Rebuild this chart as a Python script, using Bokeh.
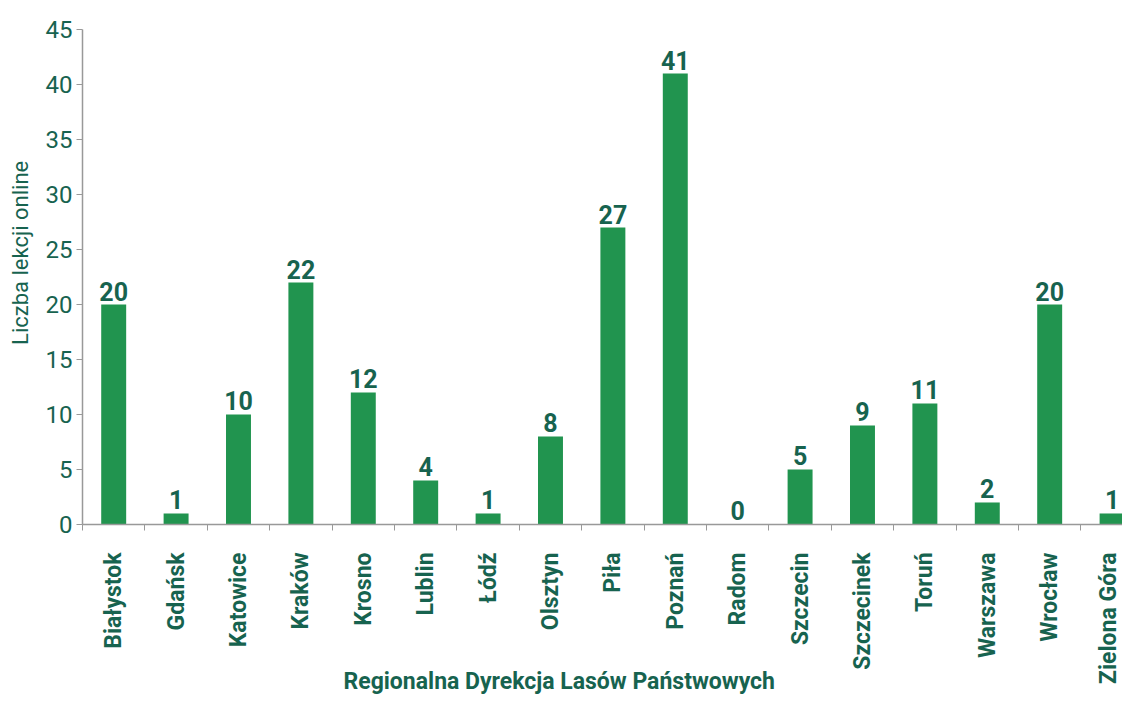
import math
from bokeh.plotting import figure
from bokeh.models import ColumnDataSource, FixedTicker, Range1d, Label
from bokeh.core.properties import value
from bokeh.embed import file_html
from bokeh.resources import INLINE

categories = ["Białystok", "Gdańsk", "Katowice", "Kraków", "Krosno", "Lublin", "Łódź",
              "Olsztyn", "Piła", "Poznań", "Radom", "Szczecin", "Szczecinek", "Toruń",
              "Warszawa", "Wrocław", "Zielona Góra"]
lessons = [20, 1, 10, 22, 12, 4, 1, 8, 27, 41, 0, 5, 9, 11, 2, 20, 1]
y_ticks = [0, 5, 10, 15, 20, 25, 30, 35, 40, 45]

BAR = "#21944f"
TXT = "#17634f"
FONT = "Roboto"

xs = [i + 0.5 for i in range(len(categories))]
src = ColumnDataSource(dict(x=xs, top=lessons, lbl=[str(v) for v in lessons]))

p = figure(width=1122, height=696, output_backend="svg", toolbar_location=None,
           x_range=Range1d(-1.314, 16.667), y_range=Range1d(-15.64, 47.64),
           min_border_left=0, min_border_right=0, min_border_top=0, min_border_bottom=0)
p.outline_line_color = None
p.grid.grid_line_color = None
p.background_fill_color = "white"

p.vbar(x="x", top="top", width=0.4, bottom=0, source=src, color=BAR, line_color=None)
p.text(x="x", y="top", text="lbl", source=src, text_align="center", text_baseline="bottom",
       y_offset=-4, text_font=value(FONT), text_font_style="bold", text_font_size="25px",
       text_color=TXT)

xa = p.xaxis[0]
xa.fixed_location = 0
xa.bounds = (0, 16.667)
xa.ticker = FixedTicker(ticks=xs, minor_ticks=list(range(0, 18)))
xa.major_label_overrides = {x: c for x, c in zip(xs, categories)}
xa.major_label_orientation = math.pi / 2
xa.major_tick_line_color = None
xa.minor_tick_in = 0
xa.minor_tick_out = 6
xa.minor_tick_line_color = "#999999"
xa.axis_line_color = "#999999"
xa.axis_line_width = 1.5
xa.major_label_text_font = FONT
xa.major_label_text_font_style = "bold"
xa.major_label_text_font_size = "23px"
xa.major_label_text_color = TXT
xa.major_label_standoff = 22

p.add_layout(Label(x=7.64, y=-14.27, text="Regionalna Dyrekcja Lasów Państwowych",
                   text_align="center", text_baseline="middle",
                   text_font=FONT, text_font_style="bold", text_font_size="23px",
                   text_color=TXT))

ya = p.yaxis[0]
ya.fixed_location = 0
ya.ticker = FixedTicker(ticks=y_ticks)
ya.bounds = (0, 45)
ya.minor_tick_line_color = None
ya.major_tick_in = 0
ya.major_tick_out = 6
ya.major_tick_line_color = "#999999"
ya.axis_line_color = "#999999"
ya.axis_line_width = 1.5
ya.major_label_text_font = FONT
ya.major_label_text_font_size = "24px"
ya.major_label_text_color = TXT
ya.major_label_standoff = 4

p.add_layout(Label(x=-0.994, y=24.7, text="Liczba lekcji online", angle=math.pi / 2,
                   text_align="center", text_baseline="middle",
                   text_font=FONT, text_font_style="normal", text_font_size="22px",
                   text_color=TXT))

open("out.html", "w").write(file_html(p, INLINE))
